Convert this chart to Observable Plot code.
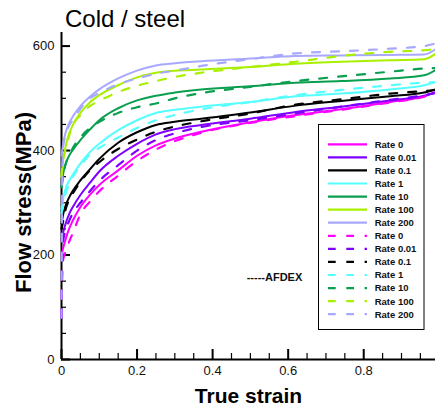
<!DOCTYPE html>
<html><head><meta charset="utf-8">
<script src="https://cdn.jsdelivr.net/npm/d3@7"></script>
<script src="https://cdn.jsdelivr.net/npm/@observablehq/plot@0.6"></script>
<style>
html,body{margin:0;padding:0;background:#fff;}
#chart{position:relative;width:435px;height:409px;overflow:hidden;}
</style></head><body><div id="chart"></div>
<script>
const FONT = "'Liberation Sans', Arial, Helvetica, sans-serif";
const titleText = "Cold / steel";
const xLabel = "True strain";
const yLabel = "Flow stress(MPa)";
const noteText = "-----AFDEX";

const rates = ["0", "0.01", "0.1", "1", "10", "100", "200"];
const colors = ["#ff00ff", "#7f00ff", "#000000", "#55ffff", "#0a9f4f", "#a8f000", "#a8a8ff"];

// solid curves
const solidStrain = [0, 0.005, 0.01, 0.02, 0.03, 0.05, 0.075, 0.1, 0.15, 0.2, 0.25, 0.3, 0.37, 0.5, 0.62, 0.74, 0.87, 0.96, 0.99];
const solid0    = [200, 215, 228, 250, 266, 292, 315, 334, 362, 390, 410, 423, 436, 454, 468, 479, 493, 504, 512];
const solid001  = [228, 245, 258, 278, 292, 315, 338, 360, 390, 413, 431, 441, 449, 461, 474, 484, 496, 505, 511];
const solid01   = [260, 280, 293, 310, 323, 343, 364, 384, 415, 435, 449, 455, 461, 473, 486, 495, 504, 511, 517];
const solid1    = [288, 310, 325, 342, 354, 375, 397, 413, 439, 458, 472, 478, 484, 493, 504, 509, 517, 525, 531];
const solid10   = [330, 358, 372, 390, 401, 420, 440, 458, 481, 496, 505, 511, 517, 523, 530, 533, 538, 544, 554];
const solid100  = [350, 385, 405, 432, 449, 472, 492, 506, 525, 540, 549, 553, 555, 560, 566, 570, 573, 575, 585];
const solid200  = [390, 415, 432, 452, 465, 485, 503, 517, 538, 553, 563, 567, 571, 576, 581, 582, 583, 584, 594];

// dashed curves (AFDEX)
const dashStrain = [0, 0.003, 0.01, 0.02, 0.03, 0.05, 0.075, 0.1, 0.15, 0.2, 0.25, 0.3, 0.37, 0.5, 0.62, 0.74, 0.87, 0.96, 0.99];
const dash0    = [80, 185, 205, 225, 242, 278, 302, 322, 352, 380, 402, 418, 434, 453, 466, 478, 492, 503, 510];
const dash001  = [80, 220, 245, 265, 280, 300, 322, 342, 372, 400, 420, 433, 445, 458, 471, 484, 497, 506, 510];
const dash01   = [250, 260, 285, 305, 318, 340, 362, 378, 403, 421, 436, 446, 456, 471, 488, 498, 509, 514, 516];
const dash1    = [280, 290, 315, 335, 350, 370, 392, 405, 425, 443, 458, 468, 479, 493, 506, 516, 525, 530, 531];
const dash10   = [330, 345, 372, 390, 405, 425, 443, 455, 472, 483, 490, 500, 510, 522, 533, 542, 551, 557, 558];
const dash100  = [350, 375, 400, 428, 448, 468, 485, 495, 512, 524, 533, 541, 549, 560, 570, 581, 589, 592, 594];
const dash200  = [80, 400, 427, 448, 458, 480, 500, 510, 527, 538, 547, 553, 562, 575, 586, 590, 595, 600, 605];

const xMajor = [0, 0.2, 0.4, 0.6, 0.8];
const xMajorLabels = ["0", "0.2", "0.4", "0.6", "0.8"];
const xMinor = [0.05, 0.1, 0.15, 0.25, 0.3, 0.35, 0.45, 0.5, 0.55, 0.65, 0.7, 0.75, 0.85, 0.9, 0.95];
const yMajor = [0, 200, 400, 600];
const yMinor = [50, 100, 150, 250, 300, 350, 450, 500, 550];

const solidSeries = [solid0, solid001, solid01, solid1, solid10, solid100, solid200];
const dashSeries = [dash0, dash001, dash01, dash1, dash10, dash100, dash200];

const solidRows = [];
solidSeries.forEach((vals, i) => vals.forEach((v, j) => solidRows.push({strain: solidStrain[j], stress: v, rate: rates[i]})));
const dashRows = [];
dashSeries.forEach((vals, i) => vals.forEach((v, j) => dashRows.push({strain: dashStrain[j], stress: v, rate: rates[i]})));

const plot = Plot.plot({
  width: 435, height: 409,
  marginLeft: 61, marginRight: 0, marginTop: 32, marginBottom: 50,
  x: {domain: [0, 0.99], label: null, axis: null},
  y: {domain: [0, 626], label: null, axis: null},
  color: {domain: rates, range: colors},
  style: {fontFamily: FONT, background: "white", color: "#000"},
  marks: [
    Plot.ruleX([0], {strokeWidth: 2}),
    Plot.ruleY([0], {strokeWidth: 2}),
    Plot.axisX(xMinor, {tickSize: -6, tickFormat: () => "", strokeWidth: 1.2, label: null}),
    Plot.axisX(xMajor, {tickSize: -10, tickFormat: () => "", strokeWidth: 2, label: null}),
    Plot.axisX(xMajor, {tickSize: 0, tickPadding: 6, tickFormat: (d, i) => xMajorLabels[i], fontSize: 13, fill: "#111", label: null}),
    Plot.axisY(yMinor, {tickSize: -5, tickFormat: () => "", strokeWidth: 1.2, label: null}),
    Plot.axisY(yMajor, {tickSize: -9, tickFormat: () => "", strokeWidth: 2, label: null}),
    Plot.axisY(yMajor, {tickSize: 0, tickPadding: 7, tickFormat: d => String(d), fontSize: 13, fill: "#111", label: null}),
    Plot.line(solidRows, {x: "strain", y: "stress", z: "rate", stroke: "rate", strokeWidth: 2, curve: "monotone-x"}),
    Plot.line(dashRows, {x: "strain", y: "stress", z: "rate", stroke: "rate", strokeWidth: 2.2, strokeDasharray: "8,11", curve: "monotone-x"})
  ]
});
document.getElementById("chart").appendChild(plot);

const svg = d3.select(plot);
svg.append("text").attr("x", 65).attr("y", 27).attr("text-anchor", "start").attr("font-family", FONT).attr("font-size", 24).attr("fill", "#000").text(titleText);
svg.append("text").attr("transform", "translate(30.5,202.5) rotate(-90)").attr("text-anchor", "middle")
  .attr("font-family", FONT).attr("font-weight", "bold").attr("font-size", 22).attr("fill", "#000").text(yLabel);
svg.append("text").attr("x", 248.5).attr("y", 403).attr("text-anchor", "middle")
  .attr("font-family", FONT).attr("font-weight", "bold").attr("font-size", 21).attr("fill", "#000").text(xLabel);
svg.append("text").attr("x", 246.7).attr("y", 280.5).attr("text-anchor", "start")
  .attr("font-family", FONT).attr("font-weight", "bold").attr("font-size", 11).attr("fill", "#111").text(noteText);

// legend
const lg = svg.append("g");
lg.append("rect").attr("x", 318.5).attr("y", 124.5).attr("width", 105.5).attr("height", 205)
  .attr("fill", "#fff").attr("stroke", "#000").attr("stroke-width", 1);
const entries = rates.map((r, i) => ({label: "Rate " + r, color: colors[i], dashed: false}))
  .concat(rates.map((r, i) => ({label: "Rate " + r, color: colors[i], dashed: true})));
entries.forEach((e, i) => {
  const y = 144.3 + 13.07 * i;
  lg.append("line").attr("x1", 328).attr("x2", 367).attr("y1", y).attr("y2", y)
    .attr("stroke", e.color).attr("stroke-width", 2.2)
    .attr("stroke-dasharray", e.dashed ? "7.7,10.6" : null);
  lg.append("text").attr("x", 374.7).attr("y", y + 3.4).attr("text-anchor", "start")
    .attr("font-family", FONT).attr("font-weight", "bold").attr("font-size", 9.5).attr("fill", "#111").text(e.label);
});
</script></body></html>
